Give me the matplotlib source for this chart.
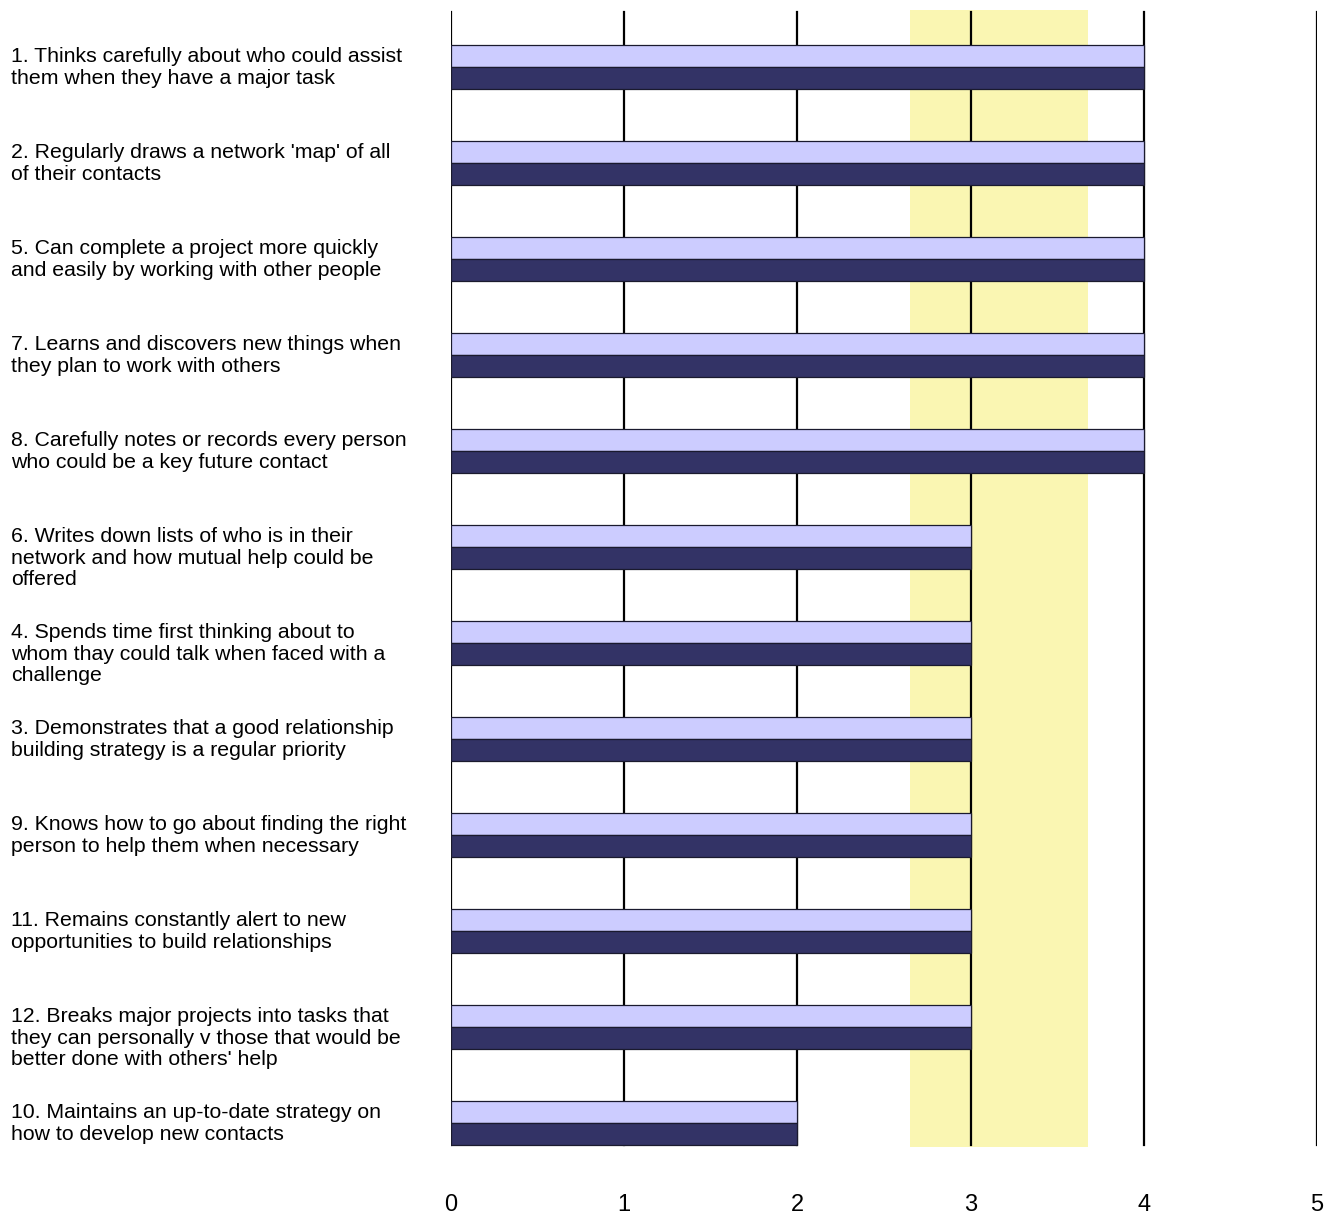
import numpy as np
import matplotlib
matplotlib.use("Agg")
from matplotlib import pyplot as plt
from matplotlib.transforms import blended_transform_factory

plt.rcParams['font.family'] = ['Liberation Sans', 'DejaVu Sans']

labels = [
    "1. Thinks carefully about who could assist\nthem when they have a major task",
    "2. Regularly draws a network 'map' of all\nof their contacts",
    "5. Can complete a project more quickly\nand easily by working with other people",
    "7. Learns and discovers new things when\nthey plan to work with others",
    "8. Carefully notes or records every person\nwho could be a key future contact",
    "6. Writes down lists of who is in their\nnetwork and how mutual help could be\noffered",
    "4. Spends time first thinking about to\nwhom thay could talk when faced with a\nchallenge",
    "3. Demonstrates that a good relationship\nbuilding strategy is a regular priority",
    "9. Knows how to go about finding the right\nperson to help them when necessary",
    "11. Remains constantly alert to new\nopportunities to build relationships",
    "12. Breaks major projects into tasks that\nthey can personally v those that would be\nbetter done with others' help",
    "10. Maintains an up-to-date strategy on\nhow to develop new contacts",
]
series_a = [4, 4, 4, 4, 4, 3, 3, 3, 3, 3, 3, 2]
series_b = [4, 4, 4, 4, 4, 3, 3, 3, 3, 3, 3, 2]
band = (2.65, 3.68)
xticks = [0, 1, 2, 3, 4, 5]

W, H = 1335, 1214
fig = plt.figure(figsize=(W / 100, H / 100), dpi=100)
ax = fig.add_axes([451 / W, 1 - 1147 / H, (1317 - 451) / W, (1147 - 10) / H])

y = np.arange(len(labels))
h = 0.225

# target band behind everything
ax.axvspan(band[0], band[1], color="#faf6b2", lw=0, zorder=0)
# vertical grid lines
for t in xticks:
    ax.axvline(t, ymin=0.002, ymax=0.998, color="black", lw=1.6, zorder=1)

ax.barh(y - h / 2, series_a, height=h, color="#ccccff", edgecolor="#1a1a2e", lw=0.9, zorder=3)
ax.barh(y + h / 2, series_b, height=h, color="#333366", edgecolor="#1a1a2e", lw=0.9, zorder=3)

ax.set_xlim(0, 5)
ax.set_ylim((1147 - 67) / 96, (10 - 67) / 96)
ax.set_xticks(xticks)
ax.set_xticklabels([str(t) for t in xticks])
ax.set_yticks([])
ax.tick_params(axis="x", length=0, pad=34, labelsize=17)
for s in ax.spines.values():
    s.set_visible(False)

trans = blended_transform_factory(fig.transFigure, ax.transData)
for i, lab in enumerate(labels):
    ax.text(11 / W, i - 0.205, lab, transform=trans, ha="left", va="top",
            fontsize=15.3, linespacing=1.15, clip_on=False)

fig.savefig("out.png", dpi=100)
